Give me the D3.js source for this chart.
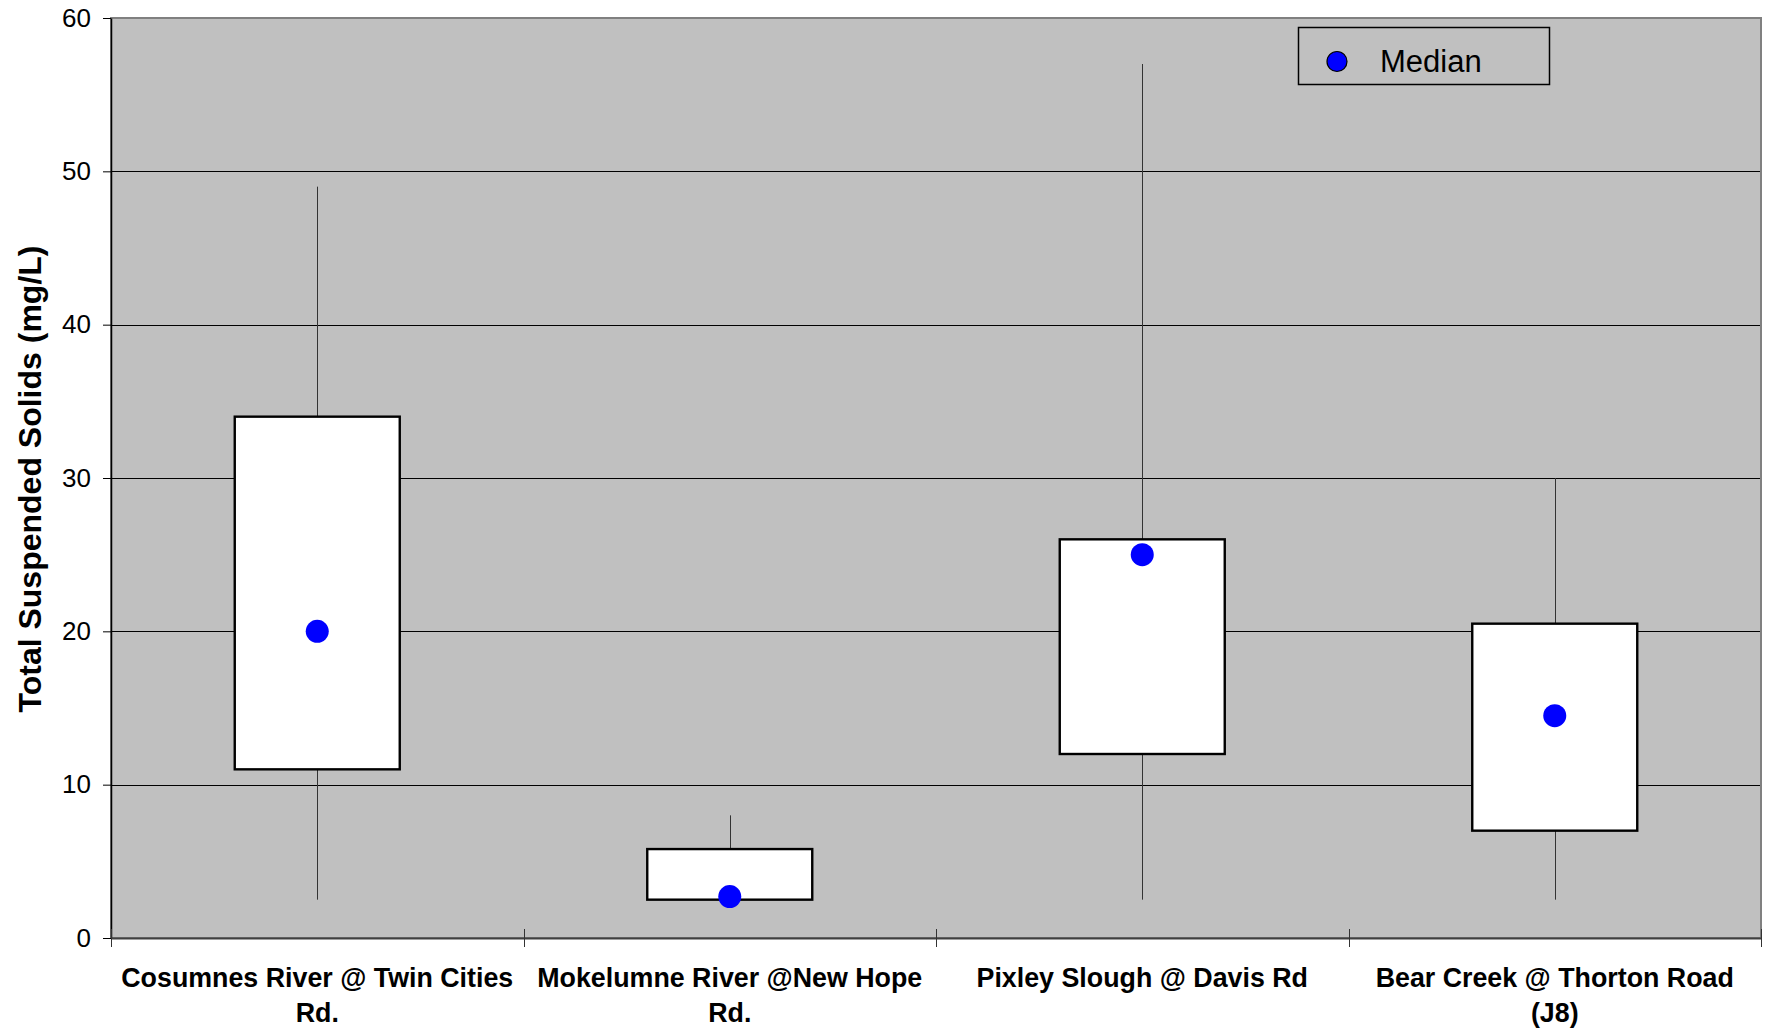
<!DOCTYPE html>
<html>
<head>
<meta charset="utf-8">
<script src="https://cdn.jsdelivr.net/npm/d3@7"></script>
<style>
  html, body { margin: 0; padding: 0; background: #ffffff; }
  svg { display: block; }
  text { font-family: "Liberation Sans", Arial, sans-serif; }
</style>
</head>
<body>
<svg id="chart" width="1769" height="1029"></svg>
<script>
// ---- data ----
const categories = [
  "Cosumnes River @ Twin Cities Rd.",
  "Mokelumne River @New Hope Rd.",
  "Pixley Slough @ Davis Rd",
  "Bear Creek @ Thorton Road (J8)"
];
const categoryLines = [
  ["Cosumnes River @ Twin Cities", "Rd."],
  ["Mokelumne River @New Hope", "Rd."],
  ["Pixley Slough @ Davis Rd"],
  ["Bear Creek @ Thorton Road", "(J8)"]
];
const minValues    = [2.5, 2.5, 2.5, 2.5];
const q1Values     = [11, 2.5, 12, 7];
const medianValues = [20, 2.7, 25, 14.5];
const q3Values     = [34, 5.8, 26, 20.5];
const maxValues    = [49, 8, 57, 30];
const yTicks = [0, 10, 20, 30, 40, 50, 60];
const yTitle = "Total Suspended Solids (mg/L)";
const legendLabel = "Median";

// ---- layout ----
const W = 1769, H = 1029;
const plot = { left: 111, right: 1761, top: 18, bottom: 938 };

const svg = d3.select("#chart");

const x = d3.scaleBand()
  .domain(categories)
  .range([plot.left, plot.right])
  .paddingInner(0).paddingOuter(0);

const y = d3.scaleLinear()
  .domain([0, 60])
  .range([plot.bottom, plot.top]);

// background
svg.append("rect")
  .attr("x", plot.left).attr("y", plot.top)
  .attr("width", plot.right - plot.left)
  .attr("height", plot.bottom - plot.top)
  .attr("fill", "#c0c0c0");

// gridlines
svg.append("g")
  .selectAll("line")
  .data(yTicks.filter(d => d > 0 && d < 60))
  .join("line")
  .attr("x1", plot.left).attr("x2", plot.right)
  .attr("y1", d => Math.round(y(d)) + 0.5)
  .attr("y2", d => Math.round(y(d)) + 0.5)
  .attr("stroke", "#000000")
  .attr("stroke-width", 1);

// plot border (top/right gray)
svg.append("rect")
  .attr("x", plot.left).attr("y", plot.top)
  .attr("width", plot.right - plot.left)
  .attr("height", plot.bottom - plot.top)
  .attr("fill", "none")
  .attr("stroke", "#808080")
  .attr("stroke-width", 2);

const boxW = x.bandwidth() * 0.40;
const data = categories.map((c, i) => ({
  c, min: minValues[i], q1: q1Values[i], med: medianValues[i], q3: q3Values[i], max: maxValues[i]
}));

// whiskers
const g = svg.append("g");
g.selectAll("line.whisker")
  .data(data)
  .join("line")
  .attr("class", "whisker")
  .attr("x1", d => Math.round(x(d.c) + x.bandwidth() / 2) + 0.5)
  .attr("x2", d => Math.round(x(d.c) + x.bandwidth() / 2) + 0.5)
  .attr("y1", d => y(d.min))
  .attr("y2", d => y(d.max))
  .attr("stroke", "#333333")
  .attr("stroke-width", 1);

// boxes
g.selectAll("rect.box")
  .data(data)
  .join("rect")
  .attr("class", "box")
  .attr("x", d => x(d.c) + (x.bandwidth() - boxW) / 2)
  .attr("width", boxW)
  .attr("y", d => y(d.q3))
  .attr("height", d => y(d.q1) - y(d.q3))
  .attr("fill", "#ffffff")
  .attr("stroke", "#000000")
  .attr("stroke-width", 2.4);

// medians
g.selectAll("circle.median")
  .data(data)
  .join("circle")
  .attr("class", "median")
  .attr("cx", d => x(d.c) + x.bandwidth() / 2)
  .attr("cy", d => y(d.med))
  .attr("r", 11.5)
  .attr("fill", "#0000ff");

// y axis
const yAxis = d3.axisLeft(y)
  .tickValues(yTicks)
  .tickSizeInner(8)
  .tickSizeOuter(0)
  .tickPadding(12)
  .tickFormat(d3.format("d"));
const yg = svg.append("g")
  .attr("transform", `translate(${plot.left},0)`)
  .call(yAxis);
yg.select(".domain").attr("stroke", "#000000").attr("stroke-width", 1.5);
yg.selectAll(".tick line").attr("stroke", "#000000").attr("x2", -8).attr("x1", 0);
yg.selectAll(".tick text")
  .attr("font-size", 26)
  .attr("fill", "#000000")
  .style("font-family", "'Liberation Sans', Arial, sans-serif");

// x axis
const xAxis = d3.axisBottom(x).tickSize(0).tickFormat("");
const xg = svg.append("g")
  .attr("transform", `translate(0,${plot.bottom})`)
  .call(xAxis);
xg.select(".domain").attr("stroke", "#404040").attr("stroke-width", 2);
xg.selectAll(".tick").remove();

// band boundary ticks (crossing axis)
const boundaries = categories.map(c => x(c)).concat([plot.right]);
svg.append("g")
  .selectAll("line")
  .data(boundaries)
  .join("line")
  .attr("x1", d => Math.round(d) + 0.5).attr("x2", d => Math.round(d) + 0.5)
  .attr("y1", plot.bottom - 9).attr("y2", plot.bottom + 9)
  .attr("stroke", "#333333")
  .attr("stroke-width", 1);

// x labels
const lab = svg.append("g");
categories.forEach((c, i) => {
  const t = lab.append("text")
    .attr("x", x(c) + x.bandwidth() / 2)
    .attr("y", 987)
    .attr("text-anchor", "middle")
    .attr("font-size", 26.8)
    .attr("font-weight", "bold")
    .attr("fill", "#000000");
  categoryLines[i].forEach((line, j) => {
    t.append("tspan")
      .attr("x", x(c) + x.bandwidth() / 2)
      .attr("dy", j === 0 ? 0 : 35)
      .text(line);
  });
});

// y title
svg.append("text")
  .attr("transform", `translate(41,${(plot.top + plot.bottom) / 2 + 1}) rotate(-90)`)
  .attr("text-anchor", "middle")
  .attr("font-size", 32)
  .attr("font-weight", "bold")
  .attr("fill", "#000000")
  .text(yTitle);

// legend
const lg = svg.append("g");
lg.append("rect")
  .attr("x", 1298.5).attr("y", 27.5)
  .attr("width", 251).attr("height", 57)
  .attr("fill", "none")
  .attr("stroke", "#000000")
  .attr("stroke-width", 1.5);
lg.append("circle")
  .attr("cx", 1337).attr("cy", 61.5)
  .attr("r", 10)
  .attr("fill", "#0000ff")
  .attr("stroke", "#000000")
  .attr("stroke-width", 1.2);
lg.append("text")
  .attr("x", 1380).attr("y", 72)
  .attr("font-size", 31)
  .attr("fill", "#000000")
  .text(legendLabel);
</script>
</body>
</html>
